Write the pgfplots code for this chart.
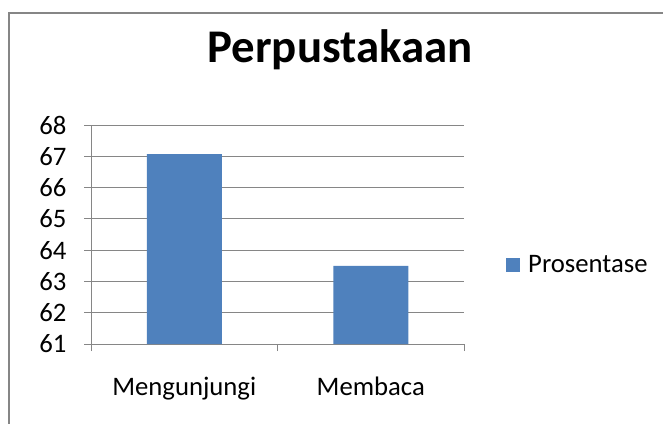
\documentclass[border=0pt]{standalone}
\usepackage{fontspec}
\setmainfont{Carlito}
\usepackage{pgfplots}
\pgfplotsset{compat=1.18}
\definecolor{barblue}{HTML}{4F81BD}
\definecolor{gridgray}{HTML}{868686}
\begin{document}
\begin{tikzpicture}[x=1bp,y=1bp]
\path[use as bounding box] (0,0) rectangle (663,423);
\draw[gridgray, line width=2bp] (9,-5) -- (9,410) -- (670,410);
\node[font=\bfseries\fontsize{47}{50}\selectfont, inner sep=0] at (340,373) {Perpustakaan};
\begin{axis}[
  at={(91bp,79bp)}, anchor=south west,
  scale only axis, width=373bp, height=219bp,
  xmin=0, xmax=2, ymin=61, ymax=68,
  ytick={61,62,...,68},
  xtick={0,1,2}, xticklabels={},
  extra x ticks={0.5,1.5},
  extra x tick labels={Mengunjungi,Membaca},
  extra x tick style={major tick length=0pt, grid=none,
    xticklabel style={anchor=base, yshift=-51bp}},
  ymajorgrids,
  grid style={gridgray, line width=1bp},
  axis x line*=bottom, axis y line*=left,
  axis line style={-, gridgray, line width=1bp},
  tick style={gridgray, line width=1bp},
  tick align=outside,
  major tick length=7bp,
  ticklabel style={font=\fontsize{26.8}{30}\selectfont, text=black},
  yticklabel style={xshift=-14bp},
  /pgf/number format/assume math mode=true,
  legend style={at={(1.1126,0.363)}, anchor=west, draw=none, fill=none,
    inner sep=0pt, font=\fontsize{26.8}{30}\selectfont,
    nodes={inner sep=0pt}},
  legend cell align=left,
  legend image code/.code={\fill[barblue] (0bp,-7bp) rectangle (14bp,7bp);},
]
\addplot[ybar, fill=barblue, draw=none, bar width=75bp] coordinates {(0.5,67.07) (1.5,63.5)};
\addlegendentry{\hspace{8bp}Prosentase}
\end{axis}
\end{tikzpicture}
\end{document}
